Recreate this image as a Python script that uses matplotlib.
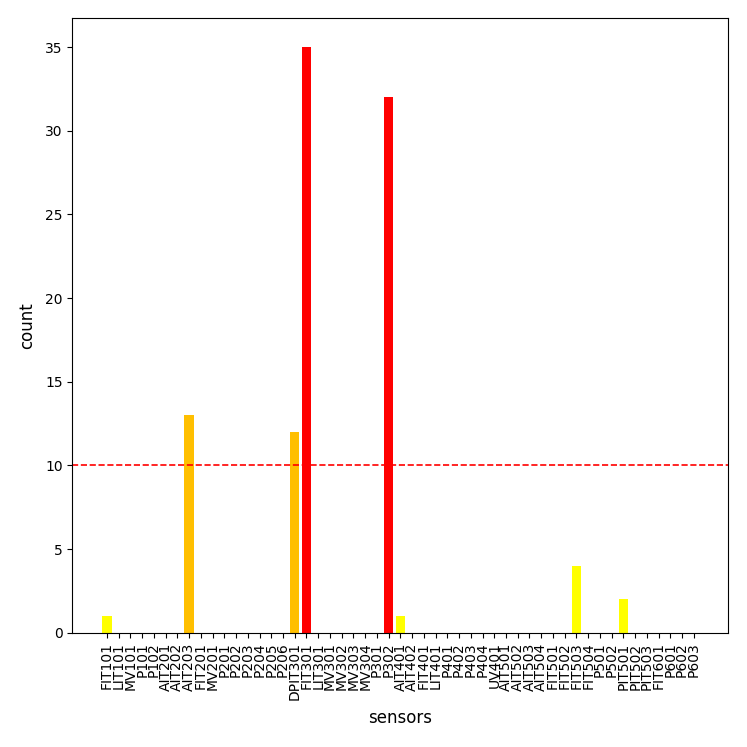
import matplotlib
matplotlib.use("Agg")
import matplotlib.pyplot as plt

sensors = ["FIT101", "LIT101", "MV101", "P101", "P102", "AIT201", "AIT202", "AIT203",
           "FIT201", "MV201", "P201", "P202", "P203", "P204", "P205", "P206",
           "DPIT301", "FIT301", "LIT301", "MV301", "MV302", "MV303", "MV304", "P301", "P302",
           "AIT401", "AIT402", "FIT401", "LIT401", "P401", "P402", "P403", "P404", "UV401",
           "AIT501", "AIT502", "AIT503", "AIT504", "FIT501", "FIT502", "FIT503", "FIT504",
           "P501", "P502", "PIT501", "PIT502", "PIT503", "FIT601", "P601", "P602", "P603"]
counts = {"FIT101": 1, "AIT203": 13, "DPIT301": 12, "FIT301": 35, "P302": 32,
          "AIT401": 1, "FIT503": 4, "PIT501": 2}
values = [counts.get(s, 0) for s in sensors]
threshold = 10

def color_for(v):
    if v > 30:
        return "#FF0000"
    if v >= threshold:
        return "#FFBF00"
    return "#FFFF00"

colors = [color_for(v) for v in values]

fig = plt.figure(figsize=(7.47, 7.47), dpi=100)
ax = fig.add_axes([0.097, 0.153, 0.878, 0.823])
ax.bar(range(len(sensors)), values, color=colors, width=0.8)
ax.axhline(threshold, color="red", linestyle="--", linewidth=1.2)
ax.set_xticks(range(len(sensors)))
ax.set_xticklabels(sensors, rotation=90, fontsize=10)
ax.set_xlabel("sensors", fontsize=12, labelpad=6.5)
ax.set_ylabel("count", fontsize=12, labelpad=6.5)
fig.savefig("out.png", dpi=100)
